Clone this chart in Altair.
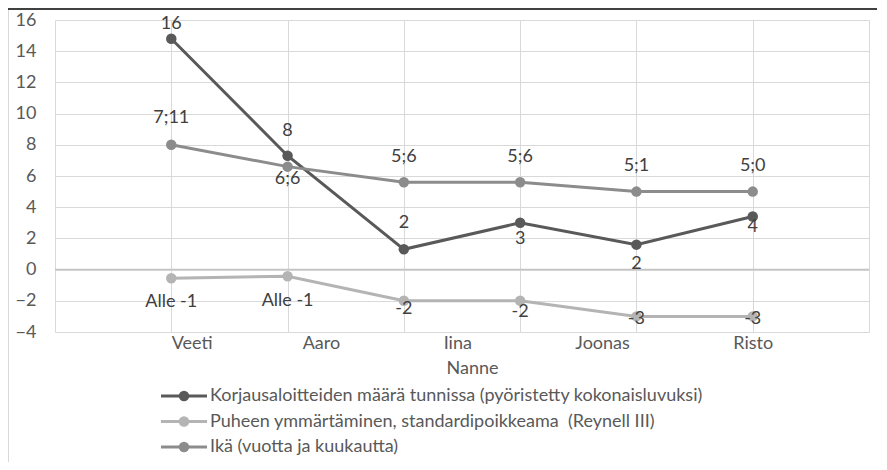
import altair as alt
import pandas as pd

# ---- data ----
names = ["Veeti", "Aaro", "Iina", "Joonas", "Risto", "Nanne"]
series = [
    "Korjausaloitteiden määrä tunnissa (pyöristetty kokonaisluvuksi)",
    "Puheen ymmärtäminen, standardipoikkeama  (Reynell III)",
    "Ikä (vuotta ja kuukautta)",
]
korjaus = [14.8, 7.3, 1.3, 3.0, 1.6, 3.4]
korjaus_labels = ["16", "8", "2", "3", "2", "4"]
puhe = [-0.55, -0.43, -2.0, -2.0, -3.0, -3.0]
puhe_labels = ["Alle -1", "Alle -1", "-2", "-2", "-3", "-3"]
ika = [8.0, 6.6, 5.6, 5.6, 5.0, 5.0]
ika_labels = ["7;11", "6;6", "5;6", "5;6", "5;1", "5;0"]

# ---- style: label offsets (pixels, + = down) ----
korjaus_dy = [-15, -25, -26, 16, 19, 10]
puhe_dy = [24, 25, 8, 11, 3, 3]
ika_dy = [-27, 12, -25, -25, -26, -26]
colors = ["#595959", "#b4b4b4", "#8c8c8c"]
FONT = "Lato"
FS = 18
PLOT_H = 312
Y_MIN, Y_MAX = -4, 16

rows = []
for s, vals, labs, dys in [
    (series[0], korjaus, korjaus_labels, korjaus_dy),
    (series[1], puhe, puhe_labels, puhe_dy),
    (series[2], ika, ika_labels, ika_dy),
]:
    for i, (v, l, d) in enumerate(zip(vals, labs, dys)):
        rows.append({"name": names[i], "idx": i + 1, "series": s, "value": v, "label": l, "dy": d})
df = pd.DataFrame(rows)
legend_df = pd.DataFrame({"series": series})

EM = "\u2003"
EN = "\u2002"
title_line1 = (names[0] + EM * 6 + EN + names[1] + EM * 7 + EN + names[2] + EM * 7 + EN
               + names[3] + EM * 7 + EN + names[4])
title_lines = [title_line1, names[5]]

x_enc = alt.X(
    "idx:Q",
    scale=alt.Scale(domain=[0, 7], nice=False, zero=False),
    axis=alt.Axis(
        values=[0, 1, 2, 3, 4, 5, 6, 7],
        labels=False, ticks=False, domain=False,
        grid=True, gridColor="#d9d9d9", gridWidth=1,
        title=title_lines, titleFont=FONT, titleFontSize=FS, titleFontWeight="normal",
        titleColor="#595959", titleLineHeight=25, titleBaseline="top",
        titleAlign="center", titleX=417, titleY=2,
    ),
)
y_axis = alt.Axis(
    values=list(range(-4, 17, 2)), ticks=False, tickSize=0, domain=False,
    grid=True, gridColor="#d9d9d9", gridWidth=1, labelOverlap=False,
    labelFont=FONT, labelFontSize=FS, labelColor="#595959", labelPadding=19,
    title=None,
)
y_scale = alt.Scale(domain=[Y_MIN, Y_MAX], nice=False)
y_enc = alt.Y("value:Q", scale=y_scale, axis=y_axis)
color_scale = alt.Scale(domain=series, range=colors)
color_enc = alt.Color("series:N", scale=color_scale, legend=None)

base = alt.Chart(df)

lines = base.mark_line(strokeWidth=3).encode(x=x_enc, y=y_enc, color=color_enc)

zero = alt.Chart(pd.DataFrame({"z": [0]})).mark_rule(color="#c4c4c4", strokeWidth=1.5).encode(
    y=alt.Y("z:Q", scale=y_scale, axis=y_axis)
)

points = base.mark_circle(size=110, opacity=1).encode(x=x_enc, y=y_enc, color=color_enc)

texts = base.transform_calculate(
    ly=f"datum.value - datum.dy * {(Y_MAX - Y_MIN) / PLOT_H}"
).mark_text(font=FONT, fontSize=FS, color="#404040", baseline="middle").encode(
    x=x_enc,
    y=alt.Y("ly:Q", scale=y_scale, axis=y_axis),
    text="label:N",
)

top_line = alt.Chart(pd.DataFrame({"a": [0]})).mark_rule(color="#404040", strokeWidth=2).encode(
    x=alt.value(-47), x2=alt.value(822), y=alt.value(-11)
)
left_border = alt.Chart(pd.DataFrame({"a": [0]})).mark_rule(color="#d9d9d9", strokeWidth=1).encode(
    x=alt.value(-46.5), y=alt.value(-10), y2=alt.value(450)
)

main = alt.layer(top_line, left_border, zero, lines, points, texts)

# ---- legend (below the plot, one row per series) ----
leg_y = alt.Y("series:N", scale=alt.Scale(type="point", domain=series, range=[376, 427], padding=0),
              axis=None)
leg_base = alt.Chart(legend_df)
leg_line = leg_base.mark_rule(strokeWidth=3).encode(
    x=alt.value(106), x2=alt.value(152), y=leg_y, color=color_enc
)
leg_dot = leg_base.mark_circle(size=110, opacity=1).encode(
    x=alt.value(129), y=leg_y, color=color_enc
)
leg_text = leg_base.transform_calculate(
    shown="replace(datum.series, '  ', ' \u00a0')"
).mark_text(font=FONT, fontSize=FS, color="#595959", align="left", baseline="middle").encode(
    x=alt.value(155), y=leg_y, text="shown:N"
)
legend = alt.layer(leg_line, leg_dot, leg_text)

chart = alt.layer(main, legend).resolve_scale(y="independent").properties(
    width=814, height=PLOT_H,
    autosize=alt.AutoSizeParams(type="none"),
    padding={"left": 47, "top": 12, "right": 8, "bottom": 130},
    background="white",
).configure_view(stroke=None)

chart.save("out.html", embed_options={"renderer": "svg", "actions": False})
